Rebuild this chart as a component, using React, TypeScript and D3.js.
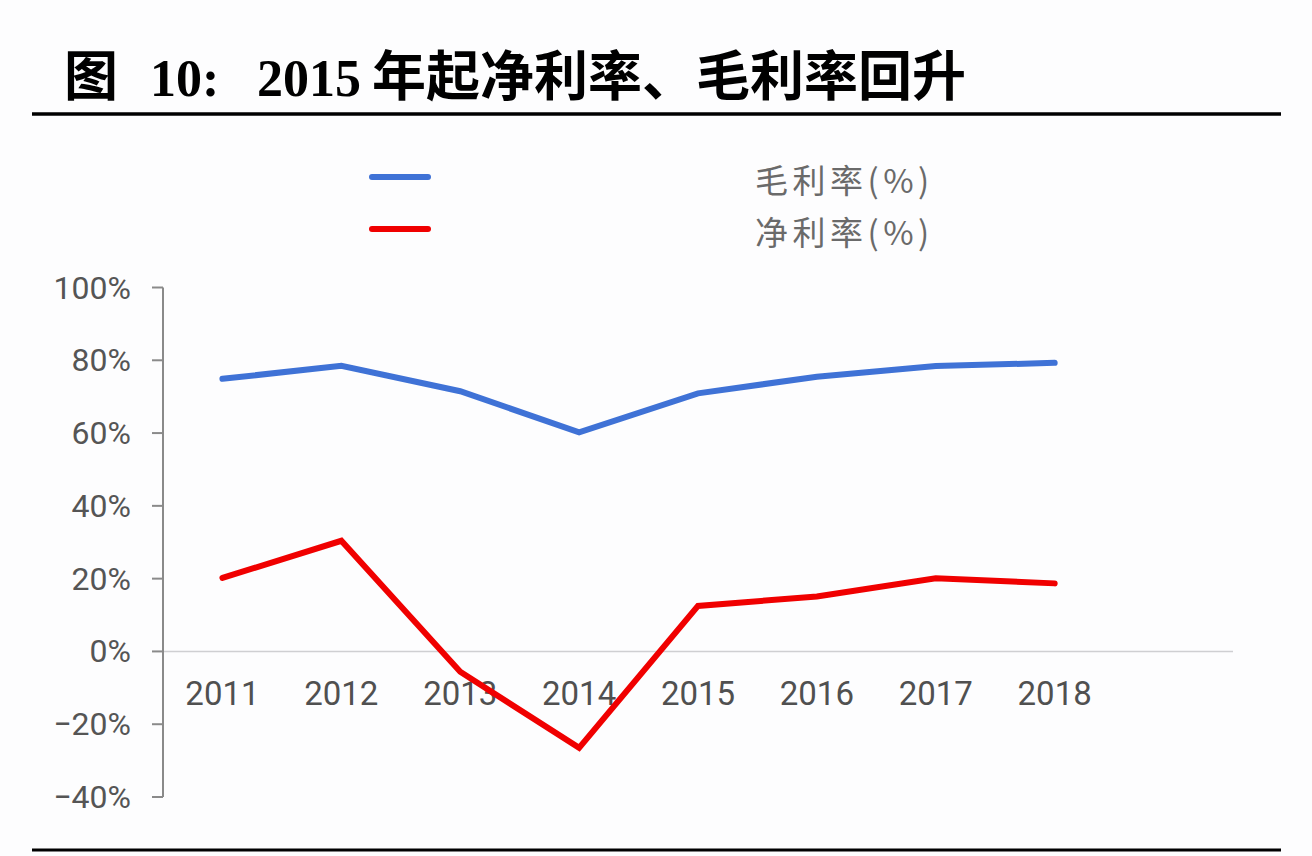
import React, { useEffect } from "react";
import * as d3 from "d3";

const years = ["2011", "2012", "2013", "2014", "2015", "2016", "2017", "2018"];
const grossMargin = [74.9, 78.5, 71.5, 60.2, 70.9, 75.5, 78.4, 79.3];
const netMargin = [20.2, 30.4, -5.6, -26.5, 12.5, 15.1, 20.1, 18.7];
const yTicks = [-40, -20, 0, 20, 40, 60, 80, 100];
const yTickLabels = ["\u221240%", "\u221220%", "0%", "20%", "40%", "60%", "80%", "100%"];
const seriesNames = ["毛利率(%)", "净利率(%)"];
const seriesColors = ["#3f72d6", "#f00000"];
const titleParts = ["图", "10:", "2015", "年起净利率、毛利率回升"];

const W = 1312;
const H = 856;
const axisX = 163;
const axisRight = 1233;
const slots = 9;

export default function App() {
  useEffect(() => {
    document.body.style.margin = "0";
  }, []);

  const step = (axisRight - axisX) / slots;
  const x = d3
    .scaleBand<string>()
    .domain(years)
    .range([axisX, axisX + step * years.length])
    .padding(0);
  const y = d3.scaleLinear().domain([-40, 100]).range([797, 287.5]);
  const cx = (yr: string) => (x(yr) as number) + x.bandwidth() / 2;

  const line = d3
    .line<number>()
    .x((_, i) => cx(years[i]))
    .y((v) => y(v))
    .curve(d3.curveLinear);

  const series = [grossMargin, netMargin];
  const labelFont = "Roboto, 'Liberation Sans', sans-serif";

  return (
    <svg
      width={W}
      height={H}
      viewBox={`0 0 ${W} ${H}`}
      style={{ position: "absolute", left: 0, top: 0, background: "#fdfdfe" }}
    >
      <rect x={0} y={0} width={W} height={H} fill="#fdfdfe" />
      {/* Title */}
      <text
        y={96}
        fontWeight="bold"
        fill="#000"
        fontFamily="'Liberation Serif', 'Noto Sans CJK SC', serif"
      >
        <tspan x={64} fontSize={54} fontFamily="'Noto Sans CJK SC'">{titleParts[0]}</tspan>
        <tspan x={150} fontSize={52}>{titleParts[1]}</tspan>
        <tspan x={257} fontSize={52}>{titleParts[2]}</tspan>
        <tspan x={372} fontSize={54} fontFamily="'Noto Sans CJK SC'">{titleParts[3]}</tspan>
      </text>
      <line x1={32} x2={1281} y1={114} y2={114} stroke="#000" strokeWidth={3.5} />
      <line x1={32} x2={1281} y1={850} y2={850} stroke="#000" strokeWidth={3} />

      {/* Legend */}
      {seriesNames.map((name, i) => (
        <g key={name}>
          <line
            x1={372}
            x2={428}
            y1={177 + i * 52}
            y2={177 + i * 52}
            stroke={seriesColors[i]}
            strokeWidth={6}
            strokeLinecap="round"
          />
          <text
            x={755}
            y={179 + i * 52}
            dominantBaseline="central"
            fontSize={33}
            letterSpacing={4.5}
            fill="#6a6a6a"
            fontFamily="'Noto Sans CJK SC', sans-serif"
          >
            {name}
          </text>
        </g>
      ))}

      {/* Zero line */}
      <line x1={axisX} x2={axisRight} y1={y(0)} y2={y(0)} stroke="#cfcfd2" strokeWidth={1.5} />

      {/* Y axis */}
      <line x1={axisX} x2={axisX} y1={y(100)} y2={y(-40)} stroke="#8a8a8a" strokeWidth={2} />
      {yTicks.map((t, i) => (
        <g key={t}>
          <line x1={axisX - 11} x2={axisX} y1={y(t)} y2={y(t)} stroke="#8a8a8a" strokeWidth={2} />
          <text
            x={131}
            y={y(t)}
            textAnchor="end"
            dominantBaseline="central"
            fontSize={32}
            fill="#555555"
            fontFamily={labelFont}
          >
            {yTickLabels[i]}
          </text>
        </g>
      ))}

      {/* X labels */}
      {years.map((yr) => (
        <text
          key={yr}
          x={cx(yr)}
          y={705}
          textAnchor="middle"
          fontSize={33}
          fill="#505050"
          fontFamily={labelFont}
        >
          {yr}
        </text>
      ))}

      {/* Lines */}
      {series.map((s, i) => (
        <path
          key={i}
          d={line(s) || ""}
          fill="none"
          stroke={seriesColors[i]}
          strokeWidth={6}
          strokeLinejoin="miter"
          strokeLinecap="round"
        />
      ))}
    </svg>
  );
}
